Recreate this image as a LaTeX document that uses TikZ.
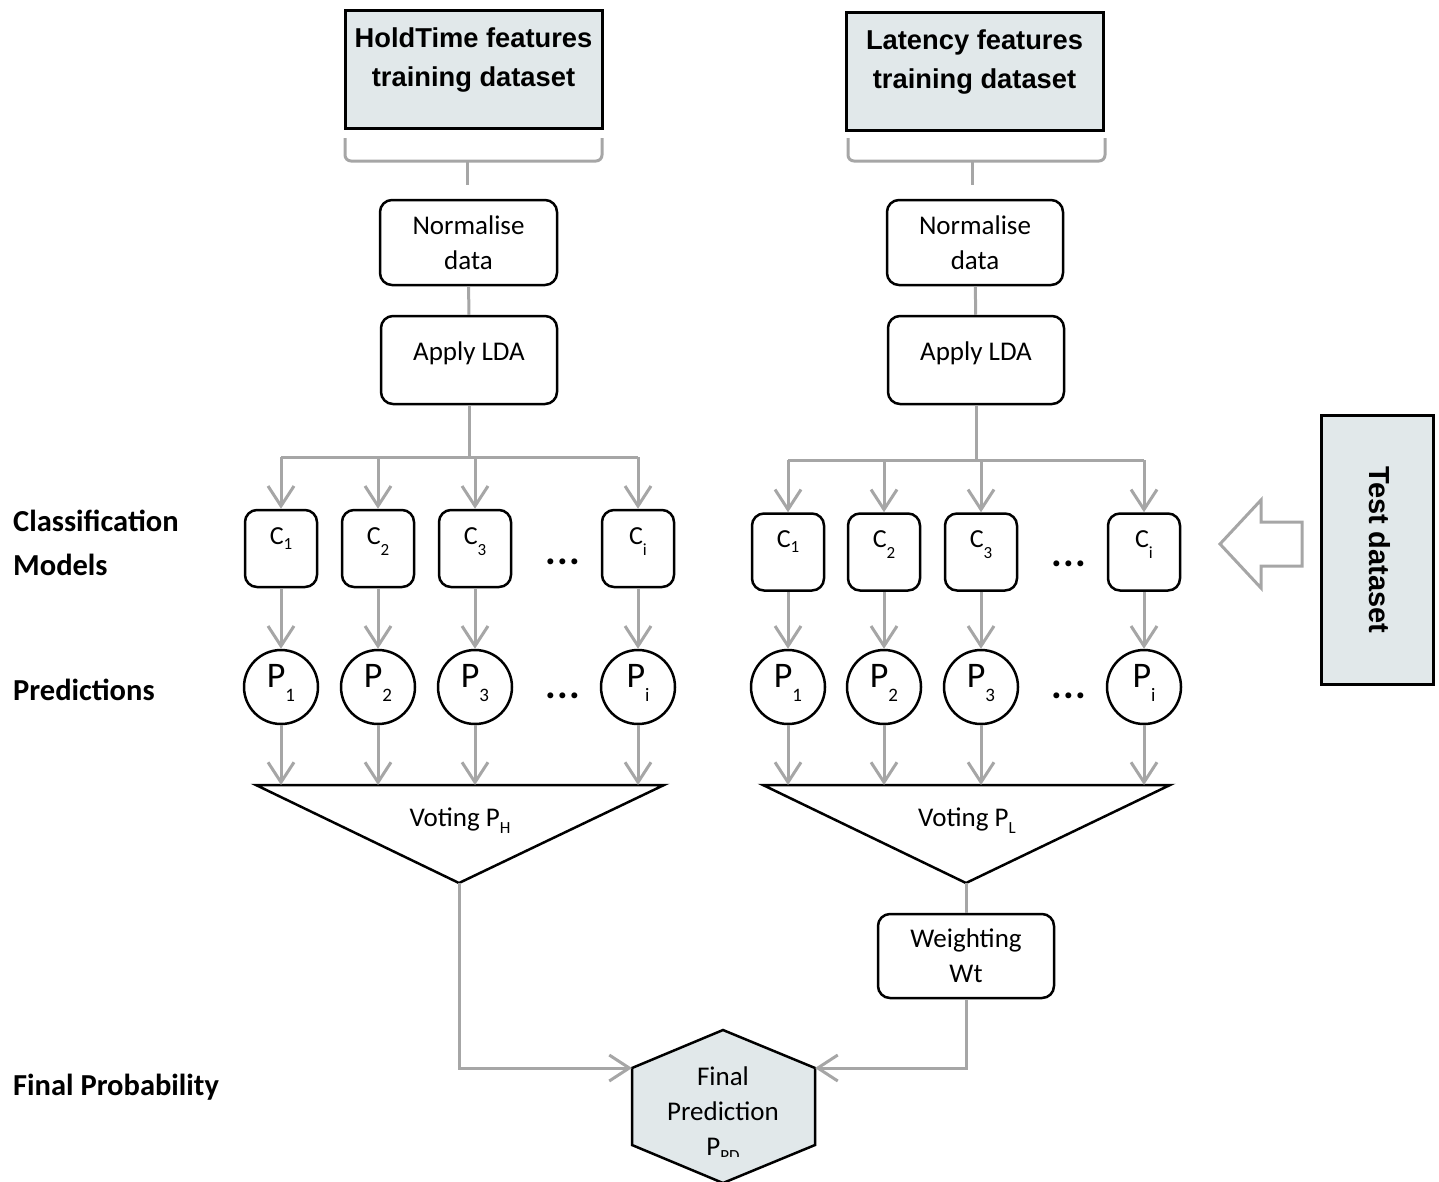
\documentclass[tikz,border=0pt]{standalone}
\usepackage{fontspec}
\setmainfont{Carlito}
\newfontfamily\arialfont{Liberation Sans}
\usetikzlibrary{arrows.meta}
\definecolor{lgray}{HTML}{A6A6A6}
\definecolor{hfill}{HTML}{E1E8EA}
\newcommand{\lowsub}[2][7pt]{\raisebox{-#1}{\fontsize{17}{17}\selectfont #2}}
\newcommand{\psub}[1]{\raisebox{-14pt}{\fontsize{19}{19}\selectfont #1}}
\newcommand{\tdots}{.\kern1.5pt.\kern1.5pt.}
\begin{document}
\begin{tikzpicture}[x=1pt,y=-1pt,
  font=\fontsize{27}{35}\selectfont,
  gl/.style={draw=lgray, line width=3pt},
  garr/.style={gl, -{Straight Barb[length=20pt,width=26pt]}},
  rbox/.style={draw, line width=2.5pt, rounded corners=12pt, align=center, fill=white, inner sep=0pt},
  sbox/.style={draw, line width=2.5pt, rounded corners=12pt, fill=white, inner sep=0pt, text height=8pt, text depth=8pt},
  hdr/.style={draw, line width=3pt, fill=hfill, inner sep=0pt},
  hdrtext/.style={font=\arialfont\bfseries\fontsize{27.3}{39}\selectfont, align=center, inner sep=0pt},
  cbox/.style={draw, line width=2.5pt, rounded corners=12pt, fill=white, inner sep=0pt,
    minimum width=72pt, minimum height=77pt, font=\fontsize{26}{26}\selectfont,
    text height=12pt, text depth=21pt},
  pcirc/.style={draw, line width=2.5pt, circle, minimum size=74pt, inner sep=0pt, fill=white,
    font=\fontsize{36}{36}\selectfont, text height=10pt, text depth=10pt},
  side/.style={font=\bfseries\fontsize{30.5}{30}\selectfont, anchor=west, inner sep=0pt},
  dots/.style={font=\bfseries\fontsize{40}{40}\selectfont, inner sep=0pt, anchor=base},
  tri/.style={draw, line width=2.5pt, line join=miter},
]
\useasboundingbox (0,0) rectangle (1439,1181);
\clip (0,0) rectangle (1439,1181);

% header boxes
\node[hdr, minimum width=257pt, minimum height=118pt] (hth) at (473.5,69) {};
\node[hdrtext] (htt) at (473.5,60) {HoldTime features\\training dataset};
\node[hdr, minimum width=257pt, minimum height=118pt] (lth) at (974.5,71) {};
\node[hdrtext] (ltt) at (974.5,62) {Latency features\\training dataset};

% braces
\draw[gl, rounded corners=6pt] (345,138) -- (345,161) -- (602,161) -- (602,138);
\draw[gl] (467,161) -- (467,185);
\draw[gl, rounded corners=6pt] (848,138) -- (848,161) -- (1105,161) -- (1105,138);
\draw[gl] (972,161) -- (972,185);

% normalise and LDA
\node[rbox, minimum width=177pt, minimum height=85pt] (ln) at (468.5,242.5) {Normalise\\data};
\node[sbox, minimum width=176pt, minimum height=88pt] (ll) at (469,360) {Apply LDA};
\node[rbox, minimum width=176pt, minimum height=85pt] (rn) at (975,242.5) {Normalise\\data};
\node[sbox, minimum width=176pt, minimum height=88pt] (rl) at (976,360) {Apply LDA};
\draw[gl] (ln) -- (ll);
\draw[gl] (rn) -- (rl);

% classification models
\coordinate (lbus) at (469,457);
\coordinate (rbus) at (976,460);
\node[cbox] (lc1) at (281,548.5) {C\lowsub[5pt]{1}};
\node[cbox] (lc2) at (378,548.5) {C\lowsub[11pt]{2}};
\node[cbox] (lc3) at (475,548.5) {C\lowsub[11pt]{3}};
\node[cbox] (lci) at (638,548.5) {C\lowsub[11pt]{i}};
\node[dots] (ldc) at (563,564.5) {\tdots};
\node[cbox] (rc1) at (788,552) {C\lowsub[5pt]{1}};
\node[cbox] (rc2) at (884,552) {C\lowsub[11pt]{2}};
\node[cbox] (rc3) at (981,552) {C\lowsub[11pt]{3}};
\node[cbox] (rci) at (1144,552) {C\lowsub[11pt]{i}};
\node[dots] (rdc) at (1069,566.5) {\tdots};

% predictions
\node[pcirc] (lp1) at (281,687) {P\psub{1}};
\node[pcirc] (lp2) at (378,687) {P\psub{2}};
\node[pcirc] (lp3) at (475,687) {P\psub{3}};
\node[pcirc] (lpi) at (638,687) {P\psub{i}};
\node[dots] (ldp) at (563,698) {\tdots};
\node[pcirc] (rp1) at (788,687) {P\psub{1}};
\node[pcirc] (rp2) at (884,687) {P\psub{2}};
\node[pcirc] (rp3) at (981,687) {P\psub{3}};
\node[pcirc] (rpi) at (1144,687) {P\psub{i}};
\node[dots] (rdp) at (1069,698) {\tdots};

% buses
\draw[gl] (ll) -- (lbus);
\draw[gl] (lc1.north |- lbus) -- (lci.north |- lbus);
\draw[gl] (rl) -- (rbus);
\draw[gl] (rc1.north |- rbus) -- (rci.north |- rbus);
\foreach \n in {lc1,lc2,lc3,lci}{\draw[garr] (\n.north |- lbus) -- (\n.north);}
\foreach \n in {rc1,rc2,rc3,rci}{\draw[garr] (\n.north |- rbus) -- (\n.north);}

% C -> P
\foreach \s in {1,2,3,i}{
  \draw[garr] (lc\s.south) -- (lp\s.north);
  \draw[garr] (rc\s.south) -- (rp\s.north);
}

% voting triangles
\coordinate (ltl) at (256,785); \coordinate (ltr) at (664,785); \coordinate (lta) at (459,883);
\coordinate (rtl) at (763,785); \coordinate (rtr) at (1170,785); \coordinate (rta) at (966,883);
\draw[tri] (ltl) -- (ltr) -- (lta) -- cycle;
\draw[tri] (rtl) -- (rtr) -- (rta) -- cycle;
\node[inner sep=0pt] (lvt) at (460,821) {Voting P\lowsub{H}};
\node[inner sep=0pt] (rvt) at (967,821) {Voting P\lowsub{L}};
\foreach \s in {1,2,3,i}{
  \draw[garr] (lp\s.south) -- (lp\s.south |- ltl);
  \draw[garr] (rp\s.south) -- (rp\s.south |- rtl);
}

% weighting
\node[rbox, minimum width=176pt, minimum height=84pt] (wt) at (966,956) {Weighting\\Wt};
\draw[gl] (rta) -- (wt.north);

% final prediction hexagon
\coordinate (hT) at (723,1030);
\coordinate (hR) at (815,1068);
\coordinate (hR2) at (815,1145);
\coordinate (hB) at (723,1183);
\coordinate (hL2) at (632,1145);
\coordinate (hL) at (632,1068);
\draw[line width=2.5pt, fill=hfill, line join=miter] (hT) -- (hR) -- (hR2) -- (hB) -- (hL2) -- (hL) -- cycle;
\node[inner sep=0pt, align=center] (fp) at (723,1094) {Final\\Prediction};
\begin{scope}
\clip (640,1130) rectangle (800,1156);
\node[inner sep=0pt, anchor=base] (fpp) at (723,1155) {P\lowsub[6pt]{PD}};
\end{scope}
\draw[garr] (lta) |- (hL);
\draw[garr] (wt.south) |- (hR);

% test dataset
\node[hdr, minimum width=112pt, minimum height=269pt] (td) at (1377,549.5) {};
\node[hdrtext, font=\arialfont\bfseries\fontsize{29}{29}\selectfont, rotate=-90] (tdt) at (1380,550) {Test dataset};
\draw[gl, line join=miter] (1220,544) -- (1261,500) -- (1261,522) -- (1302,522) -- (1302,566) -- (1261,566) -- (1261,588) -- cycle;

% side labels
\node[side] (cl1) at (13,521) {Classification};
\node[side] (cl2) at (13,565) {Models};
\node[side] (pr) at (13,690) {Predictions};
\node[side] (fpl) at (13,1087) {Final Probability};
\end{tikzpicture}
\end{document}
